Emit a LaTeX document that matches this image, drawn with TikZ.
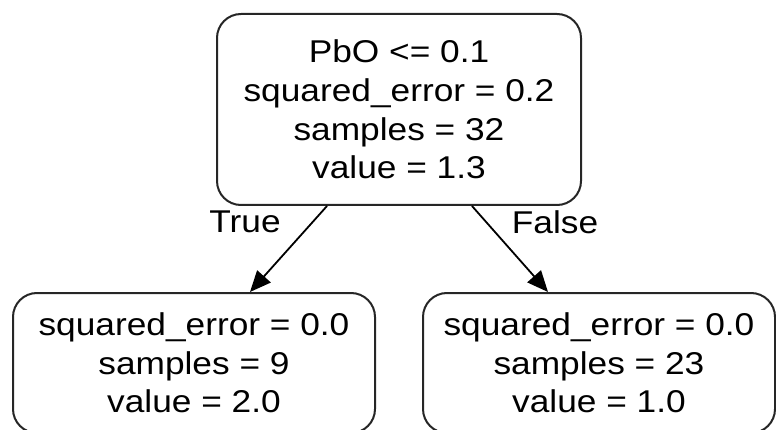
\documentclass[tikz,border=0pt]{standalone}
\usepackage{fontspec}
\setmainfont{Liberation Sans}
\newfontfamily\widesans[FakeStretch=1.12]{Liberation Sans}
\usetikzlibrary{arrows.meta,calc}
\begin{document}
\begin{tikzpicture}[x=1pt,y=-1pt,
  treenode/.style={draw=black!85,line width=2pt,rounded corners=24pt,align=center,
    inner sep=0pt,font=\widesans\fontsize{31.5}{38.7}\selectfont},
  edgelabel/.style={font=\widesans\fontsize{31.5}{38.7}\selectfont,inner sep=0pt},
  treeedge/.style={line width=1.8pt,-{Triangle[length=21pt,width=18pt]}}]
\useasboundingbox (0,0) rectangle (776,430);
\node[treenode,minimum width=364pt,minimum height=191pt] (root) at (399,109.5)
  {PbO <= 0.1\\squared\_error = 0.2\\samples = 32\\value = 1.3};
\node[treenode,minimum width=362pt,minimum height=140pt] (left) at (194,363)
  {squared\_error = 0.0\\samples = 9\\value = 2.0};
\node[treenode,minimum width=352pt,minimum height=140pt] (right) at (599,363)
  {squared\_error = 0.0\\samples = 23\\value = 1.0};
\draw[treeedge] ($(root.south)+(-72,0)$) -- ($(left.north)+(56,0)$);
\draw[treeedge] ($(root.south)+(73,0)$) -- ($(right.north)+(-51,0)$);
\node[edgelabel] (tl) at (245,222) {True};
\node[edgelabel] (fl) at (555,222) {False};
\end{tikzpicture}
\end{document}
